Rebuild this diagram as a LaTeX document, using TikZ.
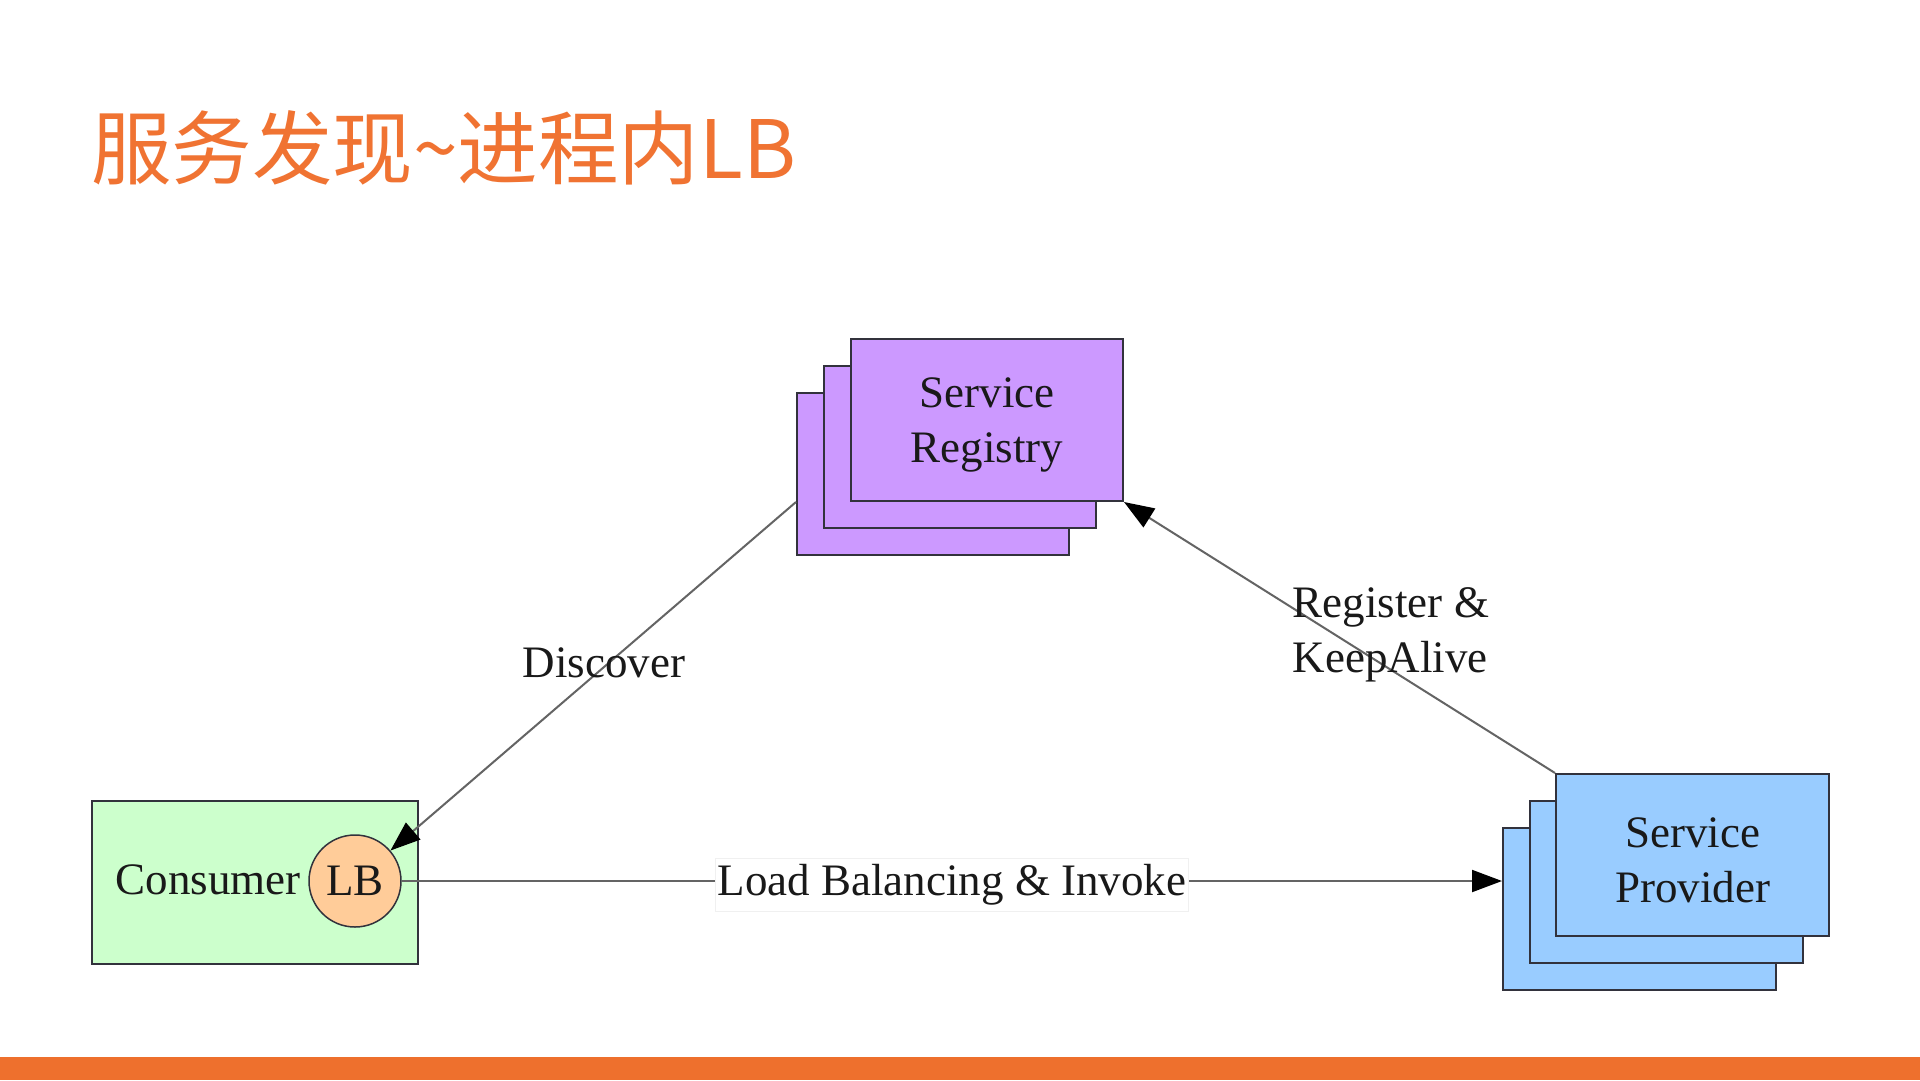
\documentclass[tikz,border=0pt]{standalone}
\usepackage{fontspec}
\setmainfont{Liberation Serif}
\newfontfamily\cjk{Noto Sans CJK SC}
\usetikzlibrary{arrows.meta,calc}
\definecolor{orangetitle}{RGB}{240,115,50}
\definecolor{barcol}{RGB}{238,112,45}
\definecolor{regfill}{RGB}{204,153,255}
\definecolor{provfill}{RGB}{153,204,255}
\definecolor{consfill}{RGB}{204,255,204}
\definecolor{lbfill}{RGB}{255,204,153}
\definecolor{boxline}{RGB}{50,50,60}
\definecolor{connline}{RGB}{100,100,100}
\definecolor{txt}{RGB}{25,25,25}
\tikzset{
  stackbox/.style={draw=boxline, line width=2pt, minimum height=162pt, inner sep=0pt,
    anchor=north west},
  regbox/.style={stackbox, fill=regfill, minimum width=272pt},
  provbox/.style={stackbox, fill=provfill, minimum width=273pt},
  conn/.style={draw=connline, line width=2pt, -{Triangle[length=30pt,width=22pt,color=black]}},
  lbl/.style={text=txt, font=\fontsize{45}{55}\selectfont, inner sep=0pt},
  boxtext/.style={lbl, align=center, yshift=-5pt}
}
\begin{document}
\begin{tikzpicture}[x=1pt,y=-1pt]
\useasboundingbox (0,0) rectangle (1920,1080);
\fill[white] (0,0) rectangle (1920,1080);
\fill[barcol] (0,1057) rectangle (1920,1080);

% title
\node[anchor=base west, inner sep=0pt, text=orangetitle, font=\cjk\fontsize{80.5}{80.5}\selectfont] (title) at (91,178) {服务发现\textasciitilde 进程内LB};

% registry stack
\node[regbox] (regB) at (796,392) {};
\node[regbox] (regM) at (823,365) {};
\node[regbox, label={[boxtext]center:Service\\Registry}] (regF) at (850,338) {};

% provider stack
\node[provbox] (provB) at (1502,827) {};
\node[provbox] (provM) at (1529,800) {};
\node[provbox, label={[boxtext]center:Service\\Provider}] (provF) at (1555,773) {};

% consumer
\node[draw=boxline, line width=2pt, fill=consfill, minimum width=326pt, minimum height=163pt, inner sep=0pt, anchor=north west] (cons) at (91,800) {};
\node[lbl] (constext) at (208,880) {Consumer};
\node[circle, draw=boxline, line width=1.5pt, fill=lbfill, minimum size=92pt, inner sep=0pt, text=txt, font=\fontsize{45}{55}\selectfont] (lb) at (355,881) {LB};

% connectors
\coordinate (ds) at (796,502);
\draw[conn] (ds) -- (lb);
\node[lbl] (disc) at (604,663) {Discover};

\draw[conn] (provF.north west) -- (regF.south east);
\node[lbl, align=left] (reg) at (1391,635) {Register \&\\KeepAlive};

\draw[conn] (lb.east) -- (provB.west |- lb.east)
  node[midway, yshift=-4pt, fill=white, draw=black!6, line width=1pt, inner xsep=2pt, inner ysep=6pt, text=txt, font=\fontsize{45}{55}\selectfont] (lbi) {Load Balancing \& Invoke};
\end{tikzpicture}
\end{document}
